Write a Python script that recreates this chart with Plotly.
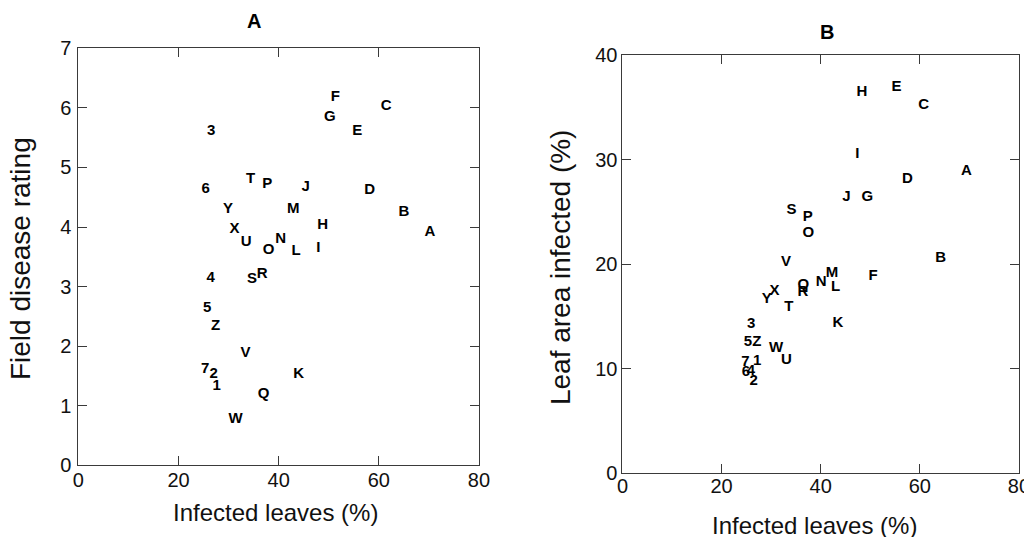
import plotly.graph_objects as go

# The photographed page shows the figure with an 8px page margin and a slight
# downscale (about 0.98 horizontally, 0.962 vertically); positions below are
# given in reference-picture pixels and converted to figure coordinates.
W, H = 1040, 553
SX, SY, OFF = 0.98, 0.962, 8

# ---------------- Panel A data ----------------
labels_a = ["F", "C", "G", "E", "3", "T", "P", "J", "D", "6", "Y", "M", "B",
            "H", "X", "A", "U", "N", "O", "L", "I", "4", "S", "R", "5", "Z",
            "V", "7", "2", "1", "K", "Q", "W"]
infected_a = [51.3, 61.5, 50.2, 55.7, 26.5, 34.4, 37.7, 45.4, 58.2, 25.4, 29.9, 42.9, 65.0,
              48.8, 31.2, 70.2, 33.5, 40.4, 38.0, 43.5, 47.9, 26.4, 34.7, 36.7, 25.7, 27.4,
              33.4, 25.3, 27.0, 27.6, 44.0, 37.0, 31.4]
rating_a = [6.18, 6.02, 5.85, 5.60, 5.60, 4.81, 4.72, 4.66, 4.61, 4.64, 4.30, 4.30, 4.25,
            4.03, 3.97, 3.92, 3.75, 3.80, 3.61, 3.60, 3.65, 3.14, 3.13, 3.21, 2.64, 2.34,
            1.88, 1.61, 1.53, 1.33, 1.53, 1.19, 0.77]

# ---------------- Panel B data ----------------
labels_b = ["H", "E", "C", "I", "A", "D", "J", "G", "S", "P", "O", "V", "B",
            "M", "F", "N", "L", "Q", "R", "X", "Y", "T", "K", "3", "5", "Z",
            "W", "U", "1", "7", "6", "4", "2"]
infected_b = [48.3, 55.3, 60.8, 47.4, 69.4, 57.5, 45.2, 49.4, 34.1, 37.4, 37.5, 33.0, 64.2,
              42.3, 50.6, 40.1, 43.0, 36.5, 36.4, 30.7, 29.1, 33.6, 43.5, 26.0, 25.3, 27.1,
              31.0, 33.1, 27.2, 24.8, 24.9, 25.9, 26.5]
leaf_area_b = [36.5, 36.9, 35.2, 30.5, 28.9, 28.1, 26.4, 26.4, 25.2, 24.5, 23.0, 20.2, 20.6,
               19.1, 18.9, 18.3, 17.8, 18.0, 17.3, 17.4, 16.7, 15.9, 14.4, 14.3, 12.5, 12.5,
               12.0, 10.8, 10.7, 10.6, 9.7, 9.8, 8.8]

x_ticks = [0, 20, 40, 60, 80]
y_ticks_a = [0, 1, 2, 3, 4, 5, 6, 7]
y_ticks_b = [0, 10, 20, 30, 40]

FONT = "Liberation Sans, Arial, Helvetica, sans-serif"
LINE = "#3a3a3a"


def px_x(p):
    return (p / SX - OFF) / W


def px_y(p):
    return 1 - (p / SY - OFF) / H


fig = go.Figure()
fig.add_trace(go.Scatter(
    x=infected_a, y=rating_a, text=labels_a, mode="text",
    textposition="middle center",
    textfont=dict(family=FONT, size=15, color="black", weight="bold"),
    xaxis="x", yaxis="y", hoverinfo="skip", showlegend=False))
fig.add_trace(go.Scatter(
    x=infected_b, y=leaf_area_b, text=labels_b, mode="text",
    textposition="middle center",
    textfont=dict(family=FONT, size=15, color="black", weight="bold"),
    xaxis="x2", yaxis="y2", hoverinfo="skip", showlegend=False))

axis_common = dict(
    showline=True, linecolor=LINE, linewidth=1, mirror="ticks",
    ticks="inside", ticklen=9, tickwidth=1, tickcolor=LINE,
    showgrid=False, zeroline=False,
    tickfont=dict(family=FONT, size=20, color="#111"),
    fixedrange=True, ticklabeloverflow="allow",
)

fig.update_layout(
    width=W, height=H, autosize=False,
    margin=dict(l=0, r=0, t=0, b=0),
    paper_bgcolor="white", plot_bgcolor="white",
    xaxis=dict(domain=[px_x(80), px_x(479)], range=[0, 80], tickvals=x_ticks,
               anchor="y", ticklabelstandoff=-3, **axis_common),
    yaxis=dict(domain=[px_y(463), px_y(45)], range=[0, 7], tickvals=y_ticks_a,
               anchor="x", ticklabelstandoff=2, **axis_common),
    xaxis2=dict(domain=[px_x(622), px_x(1017)], range=[0, 80], tickvals=x_ticks,
                anchor="y2", ticklabelstandoff=-5, **axis_common),
    yaxis2=dict(domain=[px_y(471), px_y(52)], range=[0, 40], tickvals=y_ticks_b,
                anchor="x2", ticklabelstandoff=0, **axis_common),
    annotations=[
        dict(text="<b>A</b>", x=px_x(255), y=px_y(18), xref="paper", yref="paper",
             showarrow=False, xanchor="center", yanchor="middle",
             font=dict(family=FONT, size=20, color="black")),
        dict(text="<b>B</b>", x=px_x(826), y=px_y(29), xref="paper", yref="paper",
             showarrow=False, xanchor="center", yanchor="middle",
             font=dict(family=FONT, size=20, color="black")),
        dict(text="Infected leaves (%)", x=px_x(276), y=px_y(510), xref="paper", yref="paper",
             showarrow=False, xanchor="center", yanchor="middle",
             font=dict(family=FONT, size=24, color="#111")),
        dict(text="Infected leaves (%)", x=px_x(813), y=px_y(523), xref="paper", yref="paper",
             showarrow=False, xanchor="center", yanchor="middle",
             font=dict(family=FONT, size=24, color="#111")),
        dict(text="Field disease rating", x=px_x(23), y=px_y(256), xref="paper", yref="paper",
             showarrow=False, xanchor="center", yanchor="middle", textangle=-90,
             font=dict(family=FONT, size=28, color="#111")),
        dict(text="Leaf area infected (%)", x=px_x(561), y=px_y(264), xref="paper", yref="paper",
             showarrow=False, xanchor="center", yanchor="middle", textangle=-90,
             font=dict(family=FONT, size=28, color="#111")),
    ],
)

fig.write_html("out.html")
